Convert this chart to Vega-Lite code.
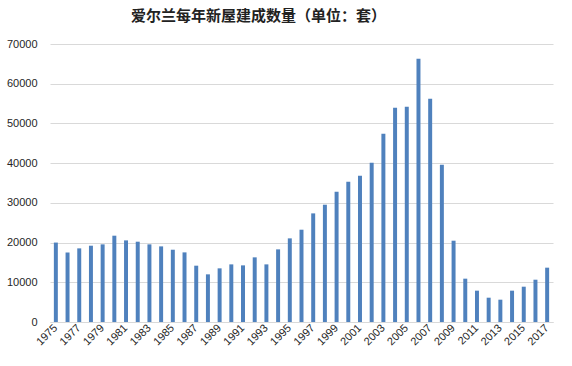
{
  "$schema": "https://vega.github.io/schema/vega-lite/v6.json",
  "autosize": "none",
  "width": 503,
  "height": 278,
  "padding": {"left": 50, "top": 44, "right": 19, "bottom": 44},
  "background": "white",
  "title": {
    "text": "爱尔兰每年新屋建成数量（单位：套）",
    "font": "Noto Sans CJK SC",
    "fontSize": 15,
    "fontWeight": "bold",
    "color": "#222222",
    "anchor": "middle",
    "dx": -43,
    "offset": 14
  },
  "data": {
    "values": [
      {"year": 1975, "units": 20000},
      {"year": 1976, "units": 17500},
      {"year": 1977, "units": 18540},
      {"year": 1978, "units": 19210},
      {"year": 1979, "units": 19550},
      {"year": 1980, "units": 21730},
      {"year": 1981, "units": 20550},
      {"year": 1982, "units": 20220},
      {"year": 1983, "units": 19550},
      {"year": 1984, "units": 19040},
      {"year": 1985, "units": 18200},
      {"year": 1986, "units": 17530},
      {"year": 1987, "units": 14180},
      {"year": 1988, "units": 12000},
      {"year": 1989, "units": 13510},
      {"year": 1990, "units": 14510},
      {"year": 1991, "units": 14260},
      {"year": 1992, "units": 16280},
      {"year": 1993, "units": 14510},
      {"year": 1994, "units": 18290},
      {"year": 1995, "units": 21060},
      {"year": 1996, "units": 23240},
      {"year": 1997, "units": 27350},
      {"year": 1998, "units": 29530},
      {"year": 1999, "units": 32800},
      {"year": 2000, "units": 35320},
      {"year": 2001, "units": 36830},
      {"year": 2002, "units": 40100},
      {"year": 2003, "units": 47400},
      {"year": 2004, "units": 53940},
      {"year": 2005, "units": 54200},
      {"year": 2006, "units": 66280},
      {"year": 2007, "units": 56210},
      {"year": 2008, "units": 39600},
      {"year": 2009, "units": 20470},
      {"year": 2010, "units": 10910},
      {"year": 2011, "units": 7890},
      {"year": 2012, "units": 6120},
      {"year": 2013, "units": 5620},
      {"year": 2014, "units": 7890},
      {"year": 2015, "units": 8890},
      {"year": 2016, "units": 10650},
      {"year": 2017, "units": 13680}
    ]
  },
  "mark": {"type": "bar", "color": "#4F81BD"},
  "encoding": {
    "x": {
      "field": "year",
      "type": "ordinal",
      "scale": {"paddingInner": 0.66, "paddingOuter": 0.33},
      "axis": {
        "title": null,
        "values": [1975,1977,1979,1981,1983,1985,1987,1989,1991,1993,1995,1997,1999,2001,2003,2005,2007,2009,2011,2013,2015,2017],
        "labelAngle": -45,
        "labelAlign": "right",
        "labelBaseline": "middle",
        "labelPadding": 4,
        "labelFont": "Liberation Sans",
        "labelFontSize": 11,
        "labelColor": "#262626",
        "ticks": false,
        "domainColor": "#d9d9d9",
        "labelOverlap": false
      }
    },
    "y": {
      "field": "units",
      "type": "quantitative",
      "scale": {"domain": [0, 70000], "nice": false},
      "axis": {
        "title": null,
        "values": [0,10000,20000,30000,40000,50000,60000,70000],
        "format": "d",
        "labelFont": "Liberation Sans",
        "labelFontSize": 11,
        "labelColor": "#262626",
        "labelPadding": 13,
        "ticks": false,
        "domain": false,
        "gridColor": "#d9d9d9",
        "gridWidth": 1
      }
    }
  },
  "config": {"view": {"stroke": null}}
}
